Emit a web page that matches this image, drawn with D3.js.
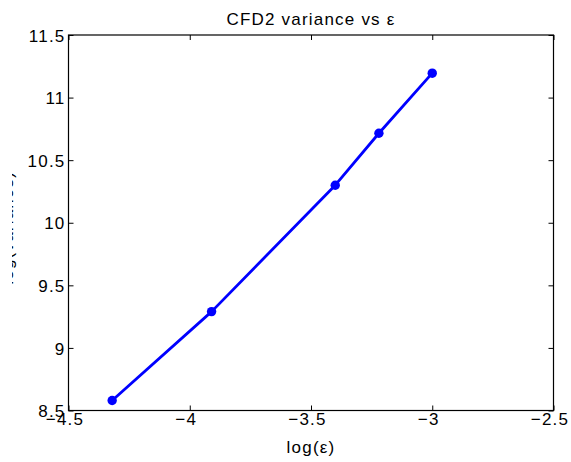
<!DOCTYPE html>
<html>
<head>
<meta charset="utf-8">
<script src="https://cdn.jsdelivr.net/npm/d3@7"></script>
<style>
  html, body { margin: 0; padding: 0; background: #fff; }
  svg { display: block; }
  text { font-family: "Liberation Sans", Arial, sans-serif; }
</style>
</head>
<body>
<svg id="chart" width="571" height="462"></svg>
<script>
// Data
const logEps = [-4.32, -3.91, -3.40, -3.22, -3.00];
const logVariance = [8.58, 9.29, 10.30, 10.715, 11.195];
const xTicks = [-4.5, -4, -3.5, -3, -2.5];
const yTicks = [8.5, 9, 9.5, 10, 10.5, 11, 11.5];
const titleText = "CFD2 variance vs ε";
const xLabelText = "log(ε)";
const yLabelText = "log(variance)";

const W = 571, H = 462;
const m = { left: 68.5, right: 553.5, top: 35, bottom: 410.5 };
const FS = 17;
const FONT = "'Liberation Sans', Arial, sans-serif";
const LS = "1.2px";

const svg = d3.select("#chart");
const x = d3.scaleLinear().domain([-4.5, -2.5]).range([m.left, m.right]);
const y = d3.scaleLinear().domain([8.5, 11.5]).range([m.bottom, m.top]);

const fmt = d => String(d).replace("-", "\u2212");
const tickLen = 5;

// Axes (ticks inward)
const gx = svg.append("g").attr("transform", `translate(0,${m.bottom})`)
  .call(d3.axisBottom(x).tickValues(xTicks).tickFormat(fmt).tickSizeInner(-tickLen).tickSizeOuter(0).tickPadding(2));
const gxTop = svg.append("g").attr("transform", `translate(0,${m.top})`)
  .call(d3.axisTop(x).tickValues(xTicks).tickFormat("").tickSizeInner(-tickLen).tickSizeOuter(0));
const gy = svg.append("g").attr("transform", `translate(${m.left},0)`)
  .call(d3.axisLeft(y).tickValues(yTicks).tickFormat(fmt).tickSizeInner(-tickLen).tickSizeOuter(0).tickPadding(3));
const gyR = svg.append("g").attr("transform", `translate(${m.right},0)`)
  .call(d3.axisRight(y).tickValues(yTicks).tickFormat("").tickSizeInner(-tickLen).tickSizeOuter(0));

[gx, gxTop, gy, gyR].forEach(g => {
  g.select(".domain").remove();
  g.selectAll(".tick line").attr("stroke", "#000").attr("stroke-width", 1);
  g.selectAll(".tick text").attr("fill", "#000").attr("font-size", FS)
    .attr("font-family", FONT).attr("letter-spacing", LS);
});
gx.selectAll(".tick text").attr("dy", "0.76em").attr("dx", -4);
gy.selectAll(".tick text").attr("dy", "0.36em");

// Box
svg.append("rect")
  .attr("x", m.left).attr("y", m.top)
  .attr("width", m.right - m.left).attr("height", m.bottom - m.top)
  .attr("fill", "none").attr("stroke", "#000").attr("stroke-width", 1.2);

// Line + markers
const pts = logEps.map((d, i) => [d, logVariance[i]]);
svg.append("path")
  .datum(pts)
  .attr("fill", "none").attr("stroke", "#0000ff").attr("stroke-width", 2.8)
  .attr("stroke-linejoin", "round")
  .attr("d", d3.line().x(d => x(d[0])).y(d => y(d[1])));
svg.selectAll("circle.pt").data(pts).enter().append("circle")
  .attr("class", "pt")
  .attr("cx", d => x(d[0])).attr("cy", d => y(d[1])).attr("r", 4.7)
  .attr("fill", "#0000ff");

// Title
svg.append("text")
  .attr("x", (m.left + m.right) / 2).attr("y", 24.5)
  .attr("text-anchor", "middle").attr("font-size", FS).attr("fill", "#000")
  .attr("font-family", FONT).attr("letter-spacing", LS)
  .text(titleText);

// X label
svg.append("text")
  .attr("x", (m.left + m.right) / 2).attr("y", 453)
  .attr("text-anchor", "middle").attr("font-size", FS).attr("fill", "#000")
  .attr("font-family", FONT).attr("letter-spacing", LS)
  .text(xLabelText);

// Y label (clipped at left like reference)
svg.append("clipPath").attr("id", "ylclip")
  .append("rect").attr("x", 12).attr("y", 0).attr("width", 40).attr("height", H);
svg.append("g").attr("clip-path", "url(#ylclip)")
  .append("text")
  .attr("transform", `translate(13,${(m.top + m.bottom) / 2 + 5}) rotate(-90)`)
  .attr("text-anchor", "middle").attr("font-size", FS).attr("fill", "#000")
  .attr("font-family", FONT).attr("letter-spacing", LS)
  .text(yLabelText);
</script>
</body>
</html>
